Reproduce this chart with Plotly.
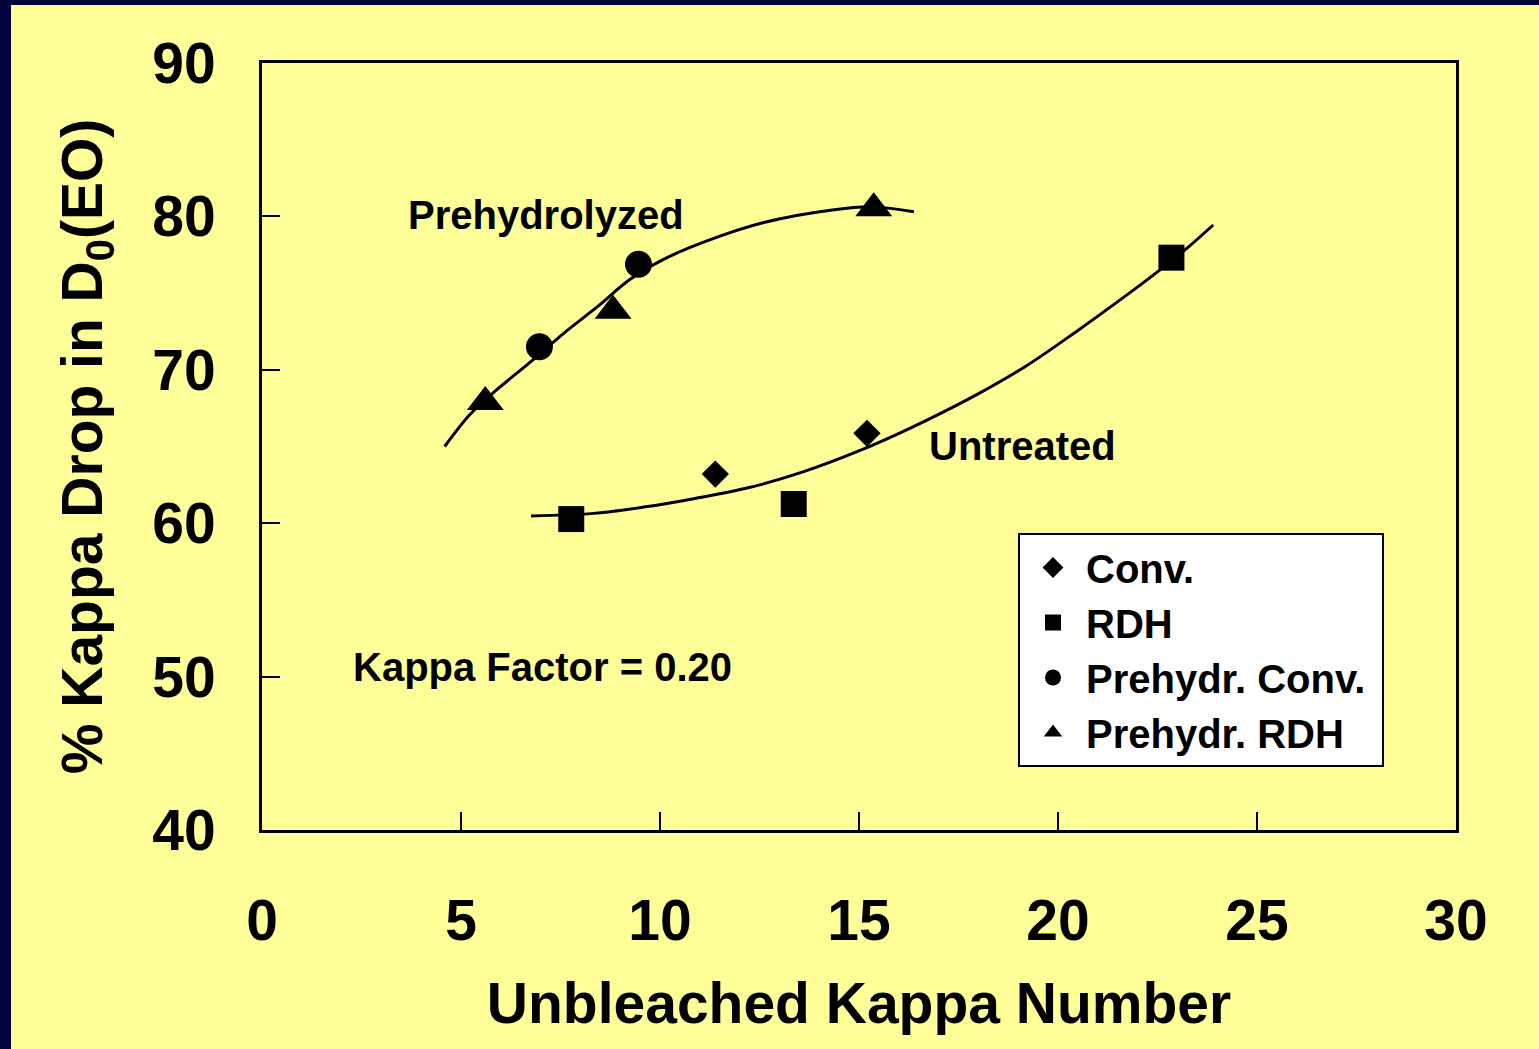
import plotly.graph_objects as go

# measured points
conv_x = [11.39, 15.20]
conv_y = [63.2, 65.86]
rdh_x = [7.77, 13.36, 22.85]
rdh_y = [60.27, 61.25, 77.31]
pre_conv_x = [6.97, 9.46]
pre_conv_y = [71.5, 76.88]
pre_rdh_x = [5.61, 8.82, 15.37]
pre_rdh_y = [67.9, 73.85, 80.53]

# trend curves
untreated_x = [6.76, 8.33, 9.59, 10.85, 12.27, 13.61, 14.95, 16.29, 17.97, 19.23, 20.49, 21.74, 22.58, 23.25, 23.90]
untreated_y = [60.47, 60.64, 61.05, 61.6, 62.34, 63.36, 64.66, 66.2, 68.4, 70.3, 72.55, 74.9, 76.55, 77.95, 79.44]
prehyd_x = [4.59, 5.23, 5.90, 6.74, 7.58, 8.42, 9.25, 10.09, 11.18, 12.61, 14.28, 15.37, 16.38]
prehyd_y = [65.0, 67.1, 68.7, 70.5, 72.38, 74.1, 75.9, 77.2, 78.4, 79.6, 80.4, 80.62, 80.3]

YELLOW = "#FFFF99"
NAVY = "#03033c"
FONT = "Liberation Sans, Arial, sans-serif"

W, H = 1539, 1049
ML, MR, MT, MB = 262, 83, 63, 219
PW, PH = W - ML - MR, H - MT - MB

fig = go.Figure()

for xs, ys in [(prehyd_x, prehyd_y), (untreated_x, untreated_y)]:
    fig.add_trace(go.Scatter(
        x=xs, y=ys, mode="lines", line=dict(color="black", width=3, shape="spline", smoothing=1),
        showlegend=False, hoverinfo="skip",
    ))

series = [
    ("Conv.", conv_x, conv_y, "diamond", 21),
    ("RDH", rdh_x, rdh_y, "square", 26),
    ("Prehydr. Conv.\u00a0", pre_conv_x, pre_conv_y, "circle", 27),
    ("Prehydr. RDH", pre_rdh_x, pre_rdh_y, "triangle-up", 32),
]
for name, xs, ys, sym, sz in series:
    fig.add_trace(go.Scatter(
        x=xs, y=ys, mode="markers", name=name,
        marker=dict(symbol=sym, size=sz, color="black", line=dict(width=0)),
    ))

axis_common = dict(
    showgrid=False, zeroline=False, showline=True, linecolor="black", linewidth=3,
    mirror=True, ticks="inside", ticklen=18, tickwidth=2, tickcolor="black",
    tickfont=dict(family=FONT, size=57, color="black", weight="bold"),
)
title_font = dict(family=FONT, size=57, color="black", weight="bold")

fig.update_xaxes(
    range=[0, 30], tickvals=[0, 5, 10, 15, 20, 25, 30], ticklabelstandoff=39,
    title=dict(text="Unbleached Kappa Number", standoff=32, font=title_font),
    **axis_common,
)
fig.update_yaxes(
    range=[40, 90], tickvals=[40, 50, 60, 70, 80, 90], ticklabelstandoff=32,
    title=dict(text="% Kappa Drop in D<sub>0</sub>(EO)", standoff=32, font=title_font),
    **axis_common,
)

# background: navy edge at left/top, yellow page
fig.add_shape(
    type="rect", xref="paper", yref="paper", layer="below",
    x0=(11 - ML) / PW, x1=1.5, y0=-0.5, y1=(H - MB - 5) / PH,
    fillcolor=YELLOW, line=dict(width=0),
)

label_font = dict(family=FONT, size=40, color="black", weight="bold")
fig.add_annotation(x=7.13, y=80.09, text="Prehydrolyzed", showarrow=False, font=label_font)
fig.add_annotation(x=19.11, y=65.03, text="Untreated", showarrow=False, font=label_font)
fig.add_annotation(x=7.05, y=50.63, text="Kappa Factor = 0.20", showarrow=False, font=label_font)

fig.update_layout(
    width=W, height=H,
    margin=dict(l=ML, r=MR, t=MT, b=MB),
    paper_bgcolor=NAVY, plot_bgcolor=YELLOW,
    font=dict(family=FONT, color="black"),
    showlegend=True,
    legend=dict(
        x=(1018 - ML) / PW, y=(H - MB - 533) / PH, xanchor="left", yanchor="top",
        bgcolor="white", bordercolor="black", borderwidth=2,
        font=dict(family=FONT, size=40, color="black", weight="bold"),
        itemwidth=56,
    ),
)

fig.write_html(
    "out.html",
    config={"displayModeBar": False},
    post_script="document.body.style.margin='0';document.body.style.overflow='hidden';",
)
